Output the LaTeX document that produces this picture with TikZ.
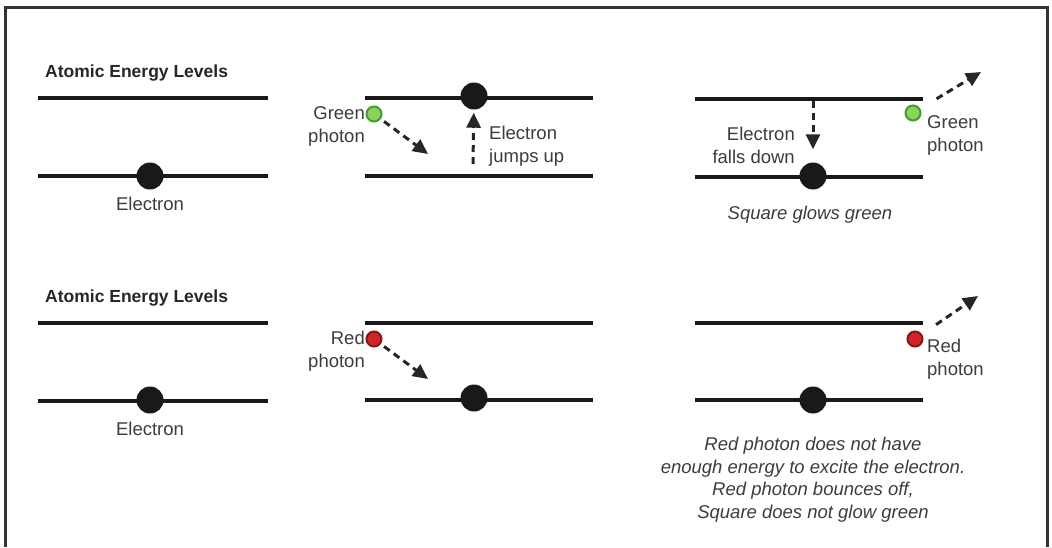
\documentclass[tikz,border=0pt]{standalone}
\usepackage{fontspec}
\setmainfont{Liberation Sans}
\usetikzlibrary{arrows.meta,positioning}
\definecolor{txtgray}{HTML}{3C3C3C}
\definecolor{gfill}{HTML}{8AD45A}
\definecolor{gedge}{HTML}{3E9E2E}
\definecolor{rfill}{HTML}{D2232A}
\definecolor{redge}{HTML}{8E1418}
\tikzset{level/.style={line width=4pt,draw=black!90},
  electron/.style={circle,fill=black!90,minimum size=27pt,inner sep=0pt},
  gphoton/.style={circle,fill=gfill,draw=gedge,line width=2pt,minimum size=15pt,inner sep=0pt},
  rphoton/.style={circle,fill=rfill,draw=redge,line width=2pt,minimum size=15pt,inner sep=0pt},
  lbl/.style={text=txtgray,inner sep=0pt,font=\fontsize{18.5}{23}\selectfont},
  ital/.style={lbl,align=center,font=\fontsize{18.5}{23}\selectfont\itshape},
  head/.style={inner sep=0pt,text=black!85,font=\fontsize{17.5}{21}\selectfont\bfseries},
  hop/.style={line width=3pt,draw=black!85,dash pattern=on 7pt off 5pt,
    -{Triangle[length=15pt,width=14pt]}}}

\begin{document}
\begin{tikzpicture}[x=1pt,y=-1pt]
\useasboundingbox (0,0) rectangle (1052,547);
\draw[line width=3pt,black!80] (5,547) -- (5,7) -- (1047,7) -- (1047,547);

% upper row: green photon
\node[head,anchor=west] (h1) at (45,73) {Atomic Energy Levels};
\draw[level] (38,98) -- (268,98);
\draw[level] (38,176) -- (268,176);
\node[electron] (e1) at (150,176) {};
\node[lbl] (l1) at (150,204) {Electron};

\draw[level] (365,98) -- (593,98);
\draw[level] (365,176) -- (593,176);
\node[electron] (e2) at (474,96) {};
\node[gphoton] (g2) at (374,114) {};
\node[lbl,align=right,anchor=east] (gl2) at (365,126) {Green\\photon};
\coordinate (g2t) at (428,154);
\draw[hop,shorten <=4pt] (g2) -- (g2t);
\coordinate (j2) at (473,164);
\draw[hop,shorten >=3pt] (j2) -- (e2);
\node[lbl,align=left,anchor=west] (jl2) at (489,146) {Electron\\jumps up};

\draw[level] (695,99) -- (923,99);
\draw[level] (695,177) -- (923,177);
\node[electron] (e3) at (813,176) {};
\coordinate (f3) at (813,101);
\draw[hop,shorten >=13pt] (f3) -- (e3);
\node[lbl,align=right,anchor=east] (fl3) at (795,145) {Electron\\falls down};
\node[gphoton] (g3) at (913,113) {};
\node[lbl,align=left,anchor=west] (gl3) at (927,135) {Green\\photon};
\coordinate (g3t) at (981,72);
\draw[hop,shorten <=19pt] (g3) -- (g3t);
\node[ital] (s3) at (810,215) {Square glows green};

% lower row: red photon
\node[head,anchor=west] (h4) at (45,298) {Atomic Energy Levels};
\draw[level] (38,323) -- (268,323);
\draw[level] (38,401) -- (268,401);
\node[electron] (e4) at (150,400) {};
\node[lbl] (l4) at (150,429) {Electron};

\draw[level] (365,323) -- (593,323);
\draw[level] (365,400) -- (593,400);
\node[electron] (e5) at (474,398) {};
\node[rphoton] (r5) at (374,339) {};
\node[lbl,align=right,anchor=east] (rl5) at (365,351) {Red\\photon};
\coordinate (r5t) at (428,379);
\draw[hop,shorten <=4pt] (r5) -- (r5t);

\draw[level] (695,323) -- (923,323);
\draw[level] (695,400) -- (923,400);
\node[electron] (e6) at (813,400) {};
\node[rphoton] (r6) at (915,339) {};
\node[lbl,align=left,anchor=west] (rl6) at (927,359) {Red\\photon};
\coordinate (r6t) at (978,296);
\draw[hop,shorten <=17pt] (r6) -- (r6t);
\node[ital] (s6) at (813,457) {Red photon does not have\\enough energy to excite the electron.};
\node[ital] (b6) at (813,502) {Red photon bounces off,\\Square does not glow green};
\end{tikzpicture}
\end{document}
